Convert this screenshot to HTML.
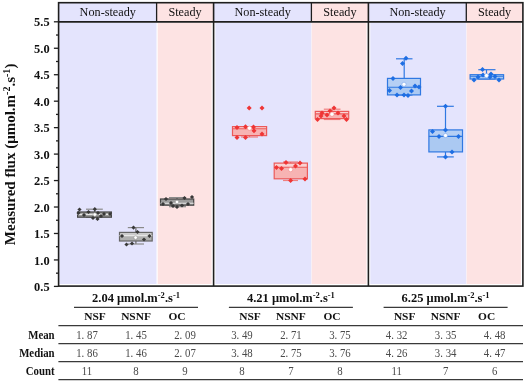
<!DOCTYPE html><html><head><meta charset="utf-8"><style>html,body{margin:0;padding:0;background:#fff;width:525px;height:382px;overflow:hidden}svg{display:block;will-change:transform}text{font-family:"Liberation Serif",serif}</style></head><body>
<svg width="525" height="382" viewBox="0 0 525 382">
<rect width="525" height="382" fill="#fff"/>
<rect x="58.5" y="2.5" width="98.1" height="19.3" fill="#e4e4fd"/>
<rect x="156.6" y="2.5" width="56.9" height="19.3" fill="#fde3e3"/>
<rect x="59.3" y="22.5" width="97.2" height="261.5" fill="#e4e4fd"/>
<rect x="157.7" y="22.5" width="53.9" height="261.5" fill="#fde3e3"/>
<rect x="59.3" y="284.6" width="152.3" height="1" fill="#fff" opacity="0.5"/>
<rect x="213.5" y="2.5" width="97.9" height="19.3" fill="#e4e4fd"/>
<rect x="311.4" y="2.5" width="57.0" height="19.3" fill="#fde3e3"/>
<rect x="215.4" y="22.5" width="96.0" height="261.5" fill="#e4e4fd"/>
<rect x="311.7" y="22.5" width="54.8" height="261.5" fill="#fde3e3"/>
<rect x="215.4" y="284.6" width="151.1" height="1" fill="#fff" opacity="0.5"/>
<rect x="368.4" y="2.5" width="97.9" height="19.3" fill="#e4e4fd"/>
<rect x="466.3" y="2.5" width="56.6" height="19.3" fill="#fde3e3"/>
<rect x="370.3" y="22.5" width="96.0" height="261.5" fill="#e4e4fd"/>
<rect x="466.6" y="22.5" width="54.4" height="261.5" fill="#fde3e3"/>
<rect x="370.3" y="284.6" width="150.7" height="1" fill="#fff" opacity="0.5"/>
<text transform="translate(107.75,16.40) scale(0.94,1.0)" font-size="13" text-anchor="middle" fill="#111">Non-steady</text>
<text transform="translate(185.05,16.40) scale(0.94,1.0)" font-size="13" text-anchor="middle" fill="#111">Steady</text>
<text transform="translate(262.65,16.40) scale(0.94,1.0)" font-size="13" text-anchor="middle" fill="#111">Non-steady</text>
<text transform="translate(339.90,16.40) scale(0.94,1.0)" font-size="13" text-anchor="middle" fill="#111">Steady</text>
<text transform="translate(417.55,16.40) scale(0.94,1.0)" font-size="13" text-anchor="middle" fill="#111">Non-steady</text>
<text transform="translate(494.60,16.40) scale(0.94,1.0)" font-size="13" text-anchor="middle" fill="#111">Steady</text>
<g stroke="#1e1e1e" stroke-width="1.6" fill="none">
<rect x="58.6" y="2.7" width="464.3" height="283.4"/>
<line x1="58.6" y1="21.9" x2="522.9" y2="21.9"/>
<line x1="156.6" y1="2.6" x2="156.6" y2="21.9" stroke-width="1.3"/>
<line x1="311.4" y1="2.6" x2="311.4" y2="21.9" stroke-width="1.3"/>
<line x1="466.3" y1="2.6" x2="466.3" y2="21.9" stroke-width="1.3"/>
<line x1="213.6" y1="2.6" x2="213.6" y2="286"/>
<line x1="368.4" y1="2.6" x2="368.4" y2="286"/>
<line x1="53.9" y1="286.40" x2="58.6" y2="286.40" stroke-width="1.3"/>
<line x1="53.9" y1="259.94" x2="58.6" y2="259.94" stroke-width="1.3"/>
<line x1="53.9" y1="233.48" x2="58.6" y2="233.48" stroke-width="1.3"/>
<line x1="53.9" y1="207.02" x2="58.6" y2="207.02" stroke-width="1.3"/>
<line x1="53.9" y1="180.56" x2="58.6" y2="180.56" stroke-width="1.3"/>
<line x1="53.9" y1="154.10" x2="58.6" y2="154.10" stroke-width="1.3"/>
<line x1="53.9" y1="127.64" x2="58.6" y2="127.64" stroke-width="1.3"/>
<line x1="53.9" y1="101.18" x2="58.6" y2="101.18" stroke-width="1.3"/>
<line x1="53.9" y1="74.72" x2="58.6" y2="74.72" stroke-width="1.3"/>
<line x1="53.9" y1="48.26" x2="58.6" y2="48.26" stroke-width="1.3"/>
<line x1="53.9" y1="21.80" x2="58.6" y2="21.80" stroke-width="1.3"/>
<line x1="56" y1="273.17" x2="58.6" y2="273.17" stroke-width="1.3"/>
<line x1="56" y1="246.71" x2="58.6" y2="246.71" stroke-width="1.3"/>
<line x1="56" y1="220.25" x2="58.6" y2="220.25" stroke-width="1.3"/>
<line x1="56" y1="193.79" x2="58.6" y2="193.79" stroke-width="1.3"/>
<line x1="56" y1="167.33" x2="58.6" y2="167.33" stroke-width="1.3"/>
<line x1="56" y1="140.87" x2="58.6" y2="140.87" stroke-width="1.3"/>
<line x1="56" y1="114.41" x2="58.6" y2="114.41" stroke-width="1.3"/>
<line x1="56" y1="87.95" x2="58.6" y2="87.95" stroke-width="1.3"/>
<line x1="56" y1="61.49" x2="58.6" y2="61.49" stroke-width="1.3"/>
<line x1="56" y1="35.03" x2="58.6" y2="35.03" stroke-width="1.3"/>
</g>
<text transform="translate(49.60,291.00) scale(0.92,1.0)" font-size="13.5" font-weight="bold" text-anchor="end" fill="#111">0.5</text>
<text transform="translate(49.60,264.54) scale(0.92,1.0)" font-size="13.5" font-weight="bold" text-anchor="end" fill="#111">1.0</text>
<text transform="translate(49.60,238.08) scale(0.92,1.0)" font-size="13.5" font-weight="bold" text-anchor="end" fill="#111">1.5</text>
<text transform="translate(49.60,211.62) scale(0.92,1.0)" font-size="13.5" font-weight="bold" text-anchor="end" fill="#111">2.0</text>
<text transform="translate(49.60,185.16) scale(0.92,1.0)" font-size="13.5" font-weight="bold" text-anchor="end" fill="#111">2.5</text>
<text transform="translate(49.60,158.70) scale(0.92,1.0)" font-size="13.5" font-weight="bold" text-anchor="end" fill="#111">3.0</text>
<text transform="translate(49.60,132.24) scale(0.92,1.0)" font-size="13.5" font-weight="bold" text-anchor="end" fill="#111">3.5</text>
<text transform="translate(49.60,105.78) scale(0.92,1.0)" font-size="13.5" font-weight="bold" text-anchor="end" fill="#111">4.0</text>
<text transform="translate(49.60,79.32) scale(0.92,1.0)" font-size="13.5" font-weight="bold" text-anchor="end" fill="#111">4.5</text>
<text transform="translate(49.60,52.86) scale(0.92,1.0)" font-size="13.5" font-weight="bold" text-anchor="end" fill="#111">5.0</text>
<text transform="translate(49.60,26.40) scale(0.92,1.0)" font-size="13.5" font-weight="bold" text-anchor="end" fill="#111">5.5</text>
<text transform="translate(15,154.4) rotate(-90)" font-size="15" font-weight="bold" text-anchor="middle" fill="#111">Measured flux (&#956;mol.m<tspan font-size="10" dy="-5">-2</tspan><tspan dy="5">.s</tspan><tspan font-size="10" dy="-5">-1</tspan><tspan dy="5">)</tspan></text>
<g stroke="#8a8a8a" stroke-width="1.2" fill="none">
<line x1="94.7" y1="209.2" x2="94.7" y2="212.0" stroke="#666666"/>
<line x1="86" y1="209.2" x2="102.8" y2="209.2"/>
<line x1="86" y1="217.2" x2="102.8" y2="217.2"/>
</g>
<rect x="77.6" y="212.0" width="33.8" height="5.2" fill="#989898"/>
<rect x="77.6" y="212.0" width="33.8" height="5.2" fill="none" stroke="#454545" stroke-width="1.2"/>
<line x1="77.6" y1="214.4" x2="111.4" y2="214.4" stroke="#e6e6e6" stroke-width="1.1"/>
<path d="M79.5 207.4L81.6 209.5L79.5 211.6L77.4 209.5Z" fill="#383838"/>
<path d="M78.5 210.9L80.6 213.0L78.5 215.1L76.4 213.0Z" fill="#383838"/>
<path d="M88.5 209.9L90.6 212.0L88.5 214.1L86.4 212.0Z" fill="#383838"/>
<path d="M94.8 207.1L96.9 209.2L94.8 211.3L92.7 209.2Z" fill="#383838"/>
<path d="M98.0 210.9L100.1 213.0L98.0 215.1L95.9 213.0Z" fill="#383838"/>
<path d="M93.0 215.9L95.1 218.0L93.0 220.1L90.9 218.0Z" fill="#383838"/>
<path d="M97.5 216.9L99.6 219.0L97.5 221.1L95.4 219.0Z" fill="#383838"/>
<path d="M104.0 211.9L106.1 214.0L104.0 216.1L101.9 214.0Z" fill="#383838"/>
<path d="M110.0 211.9L112.1 214.0L110.0 216.1L107.9 214.0Z" fill="#383838"/>
<path d="M84.0 212.9L86.1 215.0L84.0 217.1L81.9 215.0Z" fill="#383838"/>
<path d="M101.0 213.9L103.1 216.0L101.0 218.1L98.9 216.0Z" fill="#383838"/>
<circle cx="94.8" cy="214.6" r="1.8" fill="#fff" stroke="#888" stroke-width="0.5"/>
<g stroke="#8a8a8a" stroke-width="1.2" fill="none">
<line x1="135.9" y1="227.6" x2="135.9" y2="232.4" stroke="#666666"/>
<line x1="127.8" y1="227.6" x2="144" y2="227.6"/>
<line x1="135.9" y1="241" x2="135.9" y2="244" stroke="#666666"/>
<line x1="127.8" y1="244" x2="144" y2="244"/>
</g>
<rect x="119.5" y="232.4" width="32.7" height="8.6" fill="#b0b0b0"/>
<rect x="119.5" y="232.4" width="32.7" height="3.2" fill="#cbcbcb"/>
<rect x="119.5" y="232.4" width="32.7" height="8.6" fill="none" stroke="#666666" stroke-width="1.2"/>
<line x1="119.5" y1="235.6" x2="152.2" y2="235.6" stroke="#e6e6e6" stroke-width="1.1"/>
<path d="M133.5 225.5L135.6 227.6L133.5 229.7L131.4 227.6Z" fill="#383838"/>
<path d="M137.5 229.9L139.6 232.0L137.5 234.1L135.4 232.0Z" fill="#383838"/>
<path d="M122.0 233.9L124.1 236.0L122.0 238.1L119.9 236.0Z" fill="#383838"/>
<path d="M149.5 233.9L151.6 236.0L149.5 238.1L147.4 236.0Z" fill="#383838"/>
<path d="M144.0 237.4L146.1 239.5L144.0 241.6L141.9 239.5Z" fill="#383838"/>
<path d="M126.5 242.4L128.6 244.5L126.5 246.6L124.4 244.5Z" fill="#383838"/>
<path d="M132.0 241.4L134.1 243.5L132.0 245.6L129.9 243.5Z" fill="#383838"/>
<circle cx="135.6" cy="237.6" r="1.8" fill="#fff" stroke="#888" stroke-width="0.5"/>
<g stroke="#8a8a8a" stroke-width="1.2" fill="none">
<line x1="177" y1="197.6" x2="177" y2="199" stroke="#666666"/>
<line x1="169" y1="197.6" x2="186" y2="197.6"/>
<line x1="177" y1="205.2" x2="177" y2="206.7" stroke="#666666"/>
<line x1="169" y1="206.7" x2="186" y2="206.7"/>
</g>
<rect x="160.5" y="199" width="33.2" height="6.2" fill="#9c9c9c"/>
<rect x="160.5" y="199" width="33.2" height="6.2" fill="none" stroke="#454545" stroke-width="1.2"/>
<line x1="160.5" y1="203.3" x2="193.7" y2="203.3" stroke="#e6e6e6" stroke-width="1.1"/>
<path d="M166.0 196.9L168.1 199.0L166.0 201.1L163.9 199.0Z" fill="#383838"/>
<path d="M184.5 195.9L186.6 198.0L184.5 200.1L182.4 198.0Z" fill="#383838"/>
<path d="M192.0 194.9L194.1 197.0L192.0 199.1L189.9 197.0Z" fill="#383838"/>
<path d="M171.0 200.9L173.1 203.0L171.0 205.1L168.9 203.0Z" fill="#383838"/>
<path d="M188.0 201.9L190.1 204.0L188.0 206.1L185.9 204.0Z" fill="#383838"/>
<path d="M163.0 201.9L165.1 204.0L163.0 206.1L160.9 204.0Z" fill="#383838"/>
<path d="M177.0 204.9L179.1 207.0L177.0 209.1L174.9 207.0Z" fill="#383838"/>
<path d="M173.0 203.9L175.1 206.0L173.0 208.1L170.9 206.0Z" fill="#383838"/>
<path d="M182.0 203.4L184.1 205.5L182.0 207.6L179.9 205.5Z" fill="#383838"/>
<circle cx="177" cy="202" r="1.8" fill="#fff" stroke="#888" stroke-width="0.5"/>
<g stroke="#ef8080" stroke-width="1.2" fill="none">
<line x1="241" y1="126.6" x2="258" y2="126.6"/>
<line x1="249.5" y1="135.6" x2="249.5" y2="137" stroke="#ec5a5a"/>
<line x1="241" y1="137" x2="258" y2="137"/>
</g>
<rect x="232.5" y="126.6" width="34.1" height="9.0" fill="#f7b3b3"/>
<rect x="232.5" y="126.6" width="34.1" height="2.1" fill="#fad2d2"/>
<rect x="232.5" y="126.6" width="34.1" height="9.0" fill="none" stroke="#ec5a5a" stroke-width="1.2"/>
<line x1="232.5" y1="128.7" x2="266.59999999999997" y2="128.7" stroke="#ec5a5a" stroke-width="1.1"/>
<path d="M249.2 105.4L251.7 107.9L249.2 110.4L246.7 107.9Z" fill="#ef3535"/>
<path d="M262.0 105.4L264.5 107.9L262.0 110.4L259.5 107.9Z" fill="#ef3535"/>
<path d="M237.0 125.0L239.5 127.5L237.0 130.0L234.5 127.5Z" fill="#ef3535"/>
<path d="M245.5 124.3L248.0 126.8L245.5 129.3L243.0 126.8Z" fill="#ef3535"/>
<path d="M253.5 124.5L256.0 127.0L253.5 129.5L251.0 127.0Z" fill="#ef3535"/>
<path d="M254.0 128.2L256.5 130.7L254.0 133.2L251.5 130.7Z" fill="#ef3535"/>
<path d="M262.0 131.5L264.5 134.0L262.0 136.5L259.5 134.0Z" fill="#ef3535"/>
<path d="M237.0 135.0L239.5 137.5L237.0 140.0L234.5 137.5Z" fill="#ef3535"/>
<path d="M245.5 135.0L248.0 137.5L245.5 140.0L243.0 137.5Z" fill="#ef3535"/>
<circle cx="249.5" cy="128.2" r="2.1" fill="#fff" stroke="#f08080" stroke-width="0.5"/>
<g stroke="#ef8080" stroke-width="1.2" fill="none">
<line x1="290.6" y1="162" x2="290.6" y2="163.1" stroke="#ec5a5a"/>
<line x1="283" y1="162" x2="298" y2="162"/>
<line x1="290.6" y1="178.8" x2="290.6" y2="180.5" stroke="#ec5a5a"/>
<line x1="283" y1="180.5" x2="298" y2="180.5"/>
</g>
<rect x="274.2" y="163.1" width="33.2" height="15.7" fill="#f7b3b3"/>
<rect x="274.2" y="163.1" width="33.2" height="4.2" fill="#fad2d2"/>
<rect x="274.2" y="163.1" width="33.2" height="15.7" fill="none" stroke="#ec5a5a" stroke-width="1.2"/>
<line x1="274.2" y1="167.3" x2="307.4" y2="167.3" stroke="#ec5a5a" stroke-width="1.1"/>
<path d="M286.0 160.0L288.5 162.5L286.0 165.0L283.5 162.5Z" fill="#ef3535"/>
<path d="M300.0 160.5L302.5 163.0L300.0 165.5L297.5 163.0Z" fill="#ef3535"/>
<path d="M276.5 165.0L279.0 167.5L276.5 170.0L274.0 167.5Z" fill="#ef3535"/>
<path d="M281.5 166.0L284.0 168.5L281.5 171.0L279.0 168.5Z" fill="#ef3535"/>
<path d="M295.5 163.5L298.0 166.0L295.5 168.5L293.0 166.0Z" fill="#ef3535"/>
<path d="M290.6 178.0L293.1 180.5L290.6 183.0L288.1 180.5Z" fill="#ef3535"/>
<path d="M305.0 176.5L307.5 179.0L305.0 181.5L302.5 179.0Z" fill="#ef3535"/>
<circle cx="290.6" cy="169.6" r="2.1" fill="#fff" stroke="#f08080" stroke-width="0.5"/>
<g stroke="#ef8080" stroke-width="1.2" fill="none">
<line x1="332" y1="109.2" x2="332" y2="111.4" stroke="#ec5a5a"/>
<line x1="323.8" y1="109.2" x2="340.5" y2="109.2"/>
<line x1="332" y1="118.6" x2="332" y2="119.5" stroke="#ec5a5a"/>
<line x1="323.8" y1="119.5" x2="340.5" y2="119.5"/>
</g>
<rect x="315.3" y="111.4" width="33.4" height="7.2" fill="#f7b3b3"/>
<rect x="315.3" y="111.4" width="33.4" height="2.5" fill="#fad2d2"/>
<rect x="315.3" y="111.4" width="33.4" height="7.2" fill="none" stroke="#ec5a5a" stroke-width="1.2"/>
<line x1="315.3" y1="113.9" x2="348.7" y2="113.9" stroke="#ec5a5a" stroke-width="1.1"/>
<path d="M334.0 105.5L336.5 108.0L334.0 110.5L331.5 108.0Z" fill="#ef3535"/>
<path d="M330.0 108.5L332.5 111.0L330.0 113.5L327.5 111.0Z" fill="#ef3535"/>
<path d="M322.0 110.5L324.5 113.0L322.0 115.5L319.5 113.0Z" fill="#ef3535"/>
<path d="M338.0 110.5L340.5 113.0L338.0 115.5L335.5 113.0Z" fill="#ef3535"/>
<path d="M344.0 113.5L346.5 116.0L344.0 118.5L341.5 116.0Z" fill="#ef3535"/>
<path d="M317.5 117.0L320.0 119.5L317.5 122.0L315.0 119.5Z" fill="#ef3535"/>
<path d="M346.5 117.0L349.0 119.5L346.5 122.0L344.0 119.5Z" fill="#ef3535"/>
<path d="M321.0 113.5L323.5 116.0L321.0 118.5L318.5 116.0Z" fill="#ef3535"/>
<path d="M327.0 112.5L329.5 115.0L327.0 117.5L324.5 115.0Z" fill="#ef3535"/>
<circle cx="332" cy="114.2" r="2.1" fill="#fff" stroke="#f08080" stroke-width="0.5"/>
<g stroke="#2f78e2" stroke-width="1.2" fill="none">
<line x1="404.2" y1="58.8" x2="404.2" y2="78.4" stroke="#2f78e2"/>
<line x1="396" y1="58.8" x2="412.5" y2="58.8"/>
<line x1="404.2" y1="94.9" x2="404.2" y2="95" stroke="#2f78e2"/>
<line x1="396" y1="95" x2="412.5" y2="95"/>
</g>
<rect x="387.5" y="78.4" width="33.0" height="16.5" fill="#abc9f2"/>
<rect x="387.5" y="78.4" width="33.0" height="8.9" fill="#b5cff4"/>
<rect x="387.5" y="78.4" width="33.0" height="16.5" fill="none" stroke="#2f78e2" stroke-width="1.2"/>
<line x1="387.5" y1="87.3" x2="420.5" y2="87.3" stroke="#2f78e2" stroke-width="1.1"/>
<path d="M406.0 55.8L408.5 58.3L406.0 60.8L403.5 58.3Z" fill="#1e6ee3"/>
<path d="M402.5 61.0L405.0 63.5L402.5 66.0L400.0 63.5Z" fill="#1e6ee3"/>
<path d="M393.0 76.0L395.5 78.5L393.0 81.0L390.5 78.5Z" fill="#1e6ee3"/>
<path d="M400.5 85.0L403.0 87.5L400.5 90.0L398.0 87.5Z" fill="#1e6ee3"/>
<path d="M389.5 88.0L392.0 90.5L389.5 93.0L387.0 90.5Z" fill="#1e6ee3"/>
<path d="M415.0 83.5L417.5 86.0L415.0 88.5L412.5 86.0Z" fill="#1e6ee3"/>
<path d="M419.0 84.5L421.5 87.0L419.0 89.5L416.5 87.0Z" fill="#1e6ee3"/>
<path d="M411.5 88.5L414.0 91.0L411.5 93.5L409.0 91.0Z" fill="#1e6ee3"/>
<path d="M397.0 92.5L399.5 95.0L397.0 97.5L394.5 95.0Z" fill="#1e6ee3"/>
<path d="M404.0 92.5L406.5 95.0L404.0 97.5L401.5 95.0Z" fill="#1e6ee3"/>
<path d="M408.0 93.0L410.5 95.5L408.0 98.0L405.5 95.5Z" fill="#1e6ee3"/>
<circle cx="404" cy="84.3" r="2.1" fill="#fff" stroke="#6a9be8" stroke-width="0.5"/>
<g stroke="#2f78e2" stroke-width="1.2" fill="none">
<line x1="445.5" y1="106.3" x2="445.5" y2="129.9" stroke="#2f78e2"/>
<line x1="437" y1="106.3" x2="453.8" y2="106.3"/>
<line x1="445.5" y1="151.9" x2="445.5" y2="156.9" stroke="#2f78e2"/>
<line x1="437" y1="156.9" x2="453.8" y2="156.9"/>
</g>
<rect x="428.90000000000003" y="129.9" width="33.6" height="22.0" fill="#abc9f2"/>
<rect x="428.90000000000003" y="129.9" width="33.6" height="6.5" fill="#b5cff4"/>
<rect x="428.90000000000003" y="129.9" width="33.6" height="22.0" fill="none" stroke="#2f78e2" stroke-width="1.2"/>
<line x1="428.90000000000003" y1="136.4" x2="462.5" y2="136.4" stroke="#2f78e2" stroke-width="1.1"/>
<path d="M445.5 103.8L448.0 106.3L445.5 108.8L443.0 106.3Z" fill="#1e6ee3"/>
<path d="M445.5 127.5L448.0 130.0L445.5 132.5L443.0 130.0Z" fill="#1e6ee3"/>
<path d="M432.5 129.0L435.0 131.5L432.5 134.0L430.0 131.5Z" fill="#1e6ee3"/>
<path d="M439.0 134.0L441.5 136.5L439.0 139.0L436.5 136.5Z" fill="#1e6ee3"/>
<path d="M458.5 134.0L461.0 136.5L458.5 139.0L456.0 136.5Z" fill="#1e6ee3"/>
<path d="M452.0 149.5L454.5 152.0L452.0 154.5L449.5 152.0Z" fill="#1e6ee3"/>
<path d="M445.5 154.5L448.0 157.0L445.5 159.5L443.0 157.0Z" fill="#1e6ee3"/>
<circle cx="445.5" cy="135.5" r="2.1" fill="#fff" stroke="#6a9be8" stroke-width="0.5"/>
<g stroke="#2f78e2" stroke-width="1.2" fill="none">
<line x1="486.5" y1="69.7" x2="486.5" y2="74.7" stroke="#2f78e2"/>
<line x1="478.3" y1="69.7" x2="495.5" y2="69.7"/>
<line x1="478.3" y1="79.0" x2="495.5" y2="79.0"/>
</g>
<rect x="470.1" y="74.7" width="33.5" height="4.3" fill="#abc9f2"/>
<rect x="470.1" y="74.7" width="33.5" height="1.6" fill="#b5cff4"/>
<rect x="470.1" y="74.7" width="33.5" height="4.3" fill="none" stroke="#2f78e2" stroke-width="1.2"/>
<line x1="470.1" y1="76.3" x2="503.59999999999997" y2="76.3" stroke="#2f78e2" stroke-width="1.1"/>
<path d="M482.5 67.0L485.0 69.5L482.5 72.0L480.0 69.5Z" fill="#1e6ee3"/>
<path d="M483.0 72.5L485.5 75.0L483.0 77.5L480.5 75.0Z" fill="#1e6ee3"/>
<path d="M491.0 71.5L493.5 74.0L491.0 76.5L488.5 74.0Z" fill="#1e6ee3"/>
<path d="M474.0 77.5L476.5 80.0L474.0 82.5L471.5 80.0Z" fill="#1e6ee3"/>
<path d="M499.0 77.5L501.5 80.0L499.0 82.5L496.5 80.0Z" fill="#1e6ee3"/>
<path d="M490.0 74.5L492.5 77.0L490.0 79.5L487.5 77.0Z" fill="#1e6ee3"/>
<path d="M495.0 74.0L497.5 76.5L495.0 79.0L492.5 76.5Z" fill="#1e6ee3"/>
<path d="M478.0 74.5L480.5 77.0L478.0 79.5L475.5 77.0Z" fill="#1e6ee3"/>
<circle cx="486.5" cy="75.6" r="2.1" fill="#fff" stroke="#6a9be8" stroke-width="0.5"/>
<g stroke="#3a3a3a" stroke-width="1.3">
<line x1="74.0" y1="307.4" x2="198.0" y2="307.4"/>
<line x1="228.9" y1="307.4" x2="352.9" y2="307.4"/>
<line x1="383.6" y1="307.4" x2="507.6" y2="307.4"/>
<line x1="58.4" y1="325.7" x2="523" y2="325.7"/>
<line x1="58.4" y1="343.7" x2="523" y2="343.7"/>
<line x1="58.4" y1="361.6" x2="523" y2="361.6"/>
<line x1="58.4" y1="379.6" x2="523" y2="379.6"/>
</g>
<text x="136.0" y="302.2" font-size="12.5" font-weight="bold" text-anchor="middle" fill="#111">2.04 &#956;mol.m<tspan font-size="8.5" dy="-4.5">-2</tspan><tspan dy="4.5">.s</tspan><tspan font-size="8.5" dy="-4.5">-1</tspan></text>
<text x="95.00" y="320.20" font-size="11.4" font-weight="bold" text-anchor="middle" fill="#111">NSF</text>
<text transform="translate(87.00,338.50) scale(0.9,1.0)" font-size="12" text-anchor="middle" fill="#4a4a4a">1. 87</text>
<text transform="translate(87.00,356.50) scale(0.9,1.0)" font-size="12" text-anchor="middle" fill="#4a4a4a">1. 86</text>
<text transform="translate(87.00,374.60) scale(0.9,1.0)" font-size="12" text-anchor="middle" fill="#4a4a4a">11</text>
<text x="136.00" y="320.20" font-size="11.4" font-weight="bold" text-anchor="middle" fill="#111">NSNF</text>
<text transform="translate(136.00,338.50) scale(0.9,1.0)" font-size="12" text-anchor="middle" fill="#4a4a4a">1. 45</text>
<text transform="translate(136.00,356.50) scale(0.9,1.0)" font-size="12" text-anchor="middle" fill="#4a4a4a">1. 46</text>
<text transform="translate(136.00,374.60) scale(0.9,1.0)" font-size="12" text-anchor="middle" fill="#4a4a4a">8</text>
<text x="177.00" y="320.20" font-size="11.4" font-weight="bold" text-anchor="middle" fill="#111">OC</text>
<text transform="translate(185.00,338.50) scale(0.9,1.0)" font-size="12" text-anchor="middle" fill="#4a4a4a">2. 09</text>
<text transform="translate(185.00,356.50) scale(0.9,1.0)" font-size="12" text-anchor="middle" fill="#4a4a4a">2. 07</text>
<text transform="translate(185.00,374.60) scale(0.9,1.0)" font-size="12" text-anchor="middle" fill="#4a4a4a">9</text>
<text x="290.9" y="302.2" font-size="12.5" font-weight="bold" text-anchor="middle" fill="#111">4.21 &#956;mol.m<tspan font-size="8.5" dy="-4.5">-2</tspan><tspan dy="4.5">.s</tspan><tspan font-size="8.5" dy="-4.5">-1</tspan></text>
<text x="249.95" y="320.20" font-size="11.4" font-weight="bold" text-anchor="middle" fill="#111">NSF</text>
<text transform="translate(241.95,338.50) scale(0.9,1.0)" font-size="12" text-anchor="middle" fill="#4a4a4a">3. 49</text>
<text transform="translate(241.95,356.50) scale(0.9,1.0)" font-size="12" text-anchor="middle" fill="#4a4a4a">3. 48</text>
<text transform="translate(241.95,374.60) scale(0.9,1.0)" font-size="12" text-anchor="middle" fill="#4a4a4a">8</text>
<text x="290.95" y="320.20" font-size="11.4" font-weight="bold" text-anchor="middle" fill="#111">NSNF</text>
<text transform="translate(290.95,338.50) scale(0.9,1.0)" font-size="12" text-anchor="middle" fill="#4a4a4a">2. 71</text>
<text transform="translate(290.95,356.50) scale(0.9,1.0)" font-size="12" text-anchor="middle" fill="#4a4a4a">2. 75</text>
<text transform="translate(290.95,374.60) scale(0.9,1.0)" font-size="12" text-anchor="middle" fill="#4a4a4a">7</text>
<text x="331.95" y="320.20" font-size="11.4" font-weight="bold" text-anchor="middle" fill="#111">OC</text>
<text transform="translate(339.95,338.50) scale(0.9,1.0)" font-size="12" text-anchor="middle" fill="#4a4a4a">3. 75</text>
<text transform="translate(339.95,356.50) scale(0.9,1.0)" font-size="12" text-anchor="middle" fill="#4a4a4a">3. 76</text>
<text transform="translate(339.95,374.60) scale(0.9,1.0)" font-size="12" text-anchor="middle" fill="#4a4a4a">8</text>
<text x="445.6" y="302.2" font-size="12.5" font-weight="bold" text-anchor="middle" fill="#111">6.25 &#956;mol.m<tspan font-size="8.5" dy="-4.5">-2</tspan><tspan dy="4.5">.s</tspan><tspan font-size="8.5" dy="-4.5">-1</tspan></text>
<text x="404.65" y="320.20" font-size="11.4" font-weight="bold" text-anchor="middle" fill="#111">NSF</text>
<text transform="translate(396.65,338.50) scale(0.9,1.0)" font-size="12" text-anchor="middle" fill="#4a4a4a">4. 32</text>
<text transform="translate(396.65,356.50) scale(0.9,1.0)" font-size="12" text-anchor="middle" fill="#4a4a4a">4. 26</text>
<text transform="translate(396.65,374.60) scale(0.9,1.0)" font-size="12" text-anchor="middle" fill="#4a4a4a">11</text>
<text x="445.65" y="320.20" font-size="11.4" font-weight="bold" text-anchor="middle" fill="#111">NSNF</text>
<text transform="translate(445.65,338.50) scale(0.9,1.0)" font-size="12" text-anchor="middle" fill="#4a4a4a">3. 35</text>
<text transform="translate(445.65,356.50) scale(0.9,1.0)" font-size="12" text-anchor="middle" fill="#4a4a4a">3. 34</text>
<text transform="translate(445.65,374.60) scale(0.9,1.0)" font-size="12" text-anchor="middle" fill="#4a4a4a">7</text>
<text x="486.65" y="320.20" font-size="11.4" font-weight="bold" text-anchor="middle" fill="#111">OC</text>
<text transform="translate(494.65,338.50) scale(0.9,1.0)" font-size="12" text-anchor="middle" fill="#4a4a4a">4. 48</text>
<text transform="translate(494.65,356.50) scale(0.9,1.0)" font-size="12" text-anchor="middle" fill="#4a4a4a">4. 47</text>
<text transform="translate(494.65,374.60) scale(0.9,1.0)" font-size="12" text-anchor="middle" fill="#4a4a4a">6</text>
<text transform="translate(54.60,338.60) scale(0.94,1.0)" font-size="11.5" font-weight="bold" text-anchor="end" fill="#111">Mean</text>
<text transform="translate(54.60,356.70) scale(0.94,1.0)" font-size="11.5" font-weight="bold" text-anchor="end" fill="#111">Median</text>
<text transform="translate(54.60,374.80) scale(0.94,1.0)" font-size="11.5" font-weight="bold" text-anchor="end" fill="#111">Count</text>
</svg></body></html>
